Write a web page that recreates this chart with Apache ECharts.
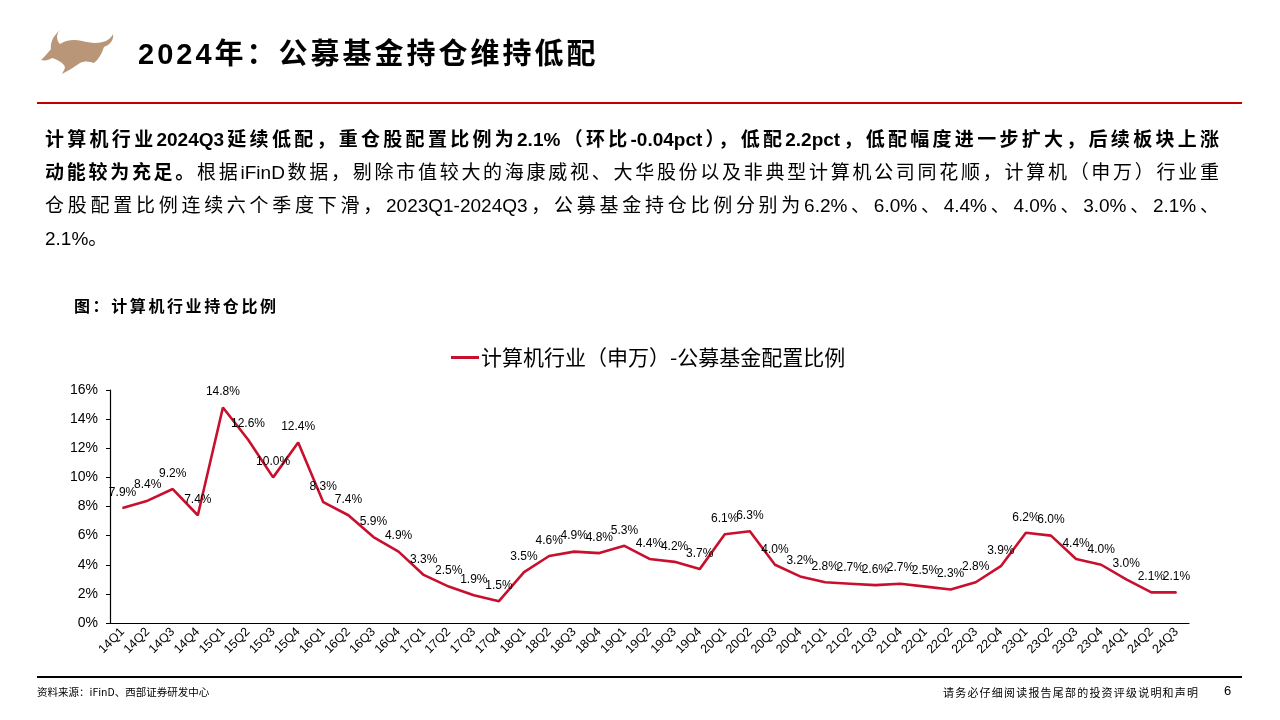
<!DOCTYPE html>
<html>
<head>
<meta charset="utf-8">
<script src="https://cdn.jsdelivr.net/npm/echarts@6/dist/echarts.min.js"></script>
<style>
  html, body { margin:0; padding:0; width:1280px; height:720px; background:#fff; overflow:hidden; }
  body { position:relative; font-family:"Liberation Sans", "Noto Sans CJK SC", sans-serif; color:#000; }
  #chart { position:absolute; left:0; top:0; width:1280px; height:720px; }
  .abs { position:absolute; }
  #title { left:138px; top:30px; font-size:29px; font-weight:bold; letter-spacing:3px; font-family:"Liberation Sans","Noto Sans CJK SC",sans-serif; white-space:nowrap; }
  #rule { left:37px; top:102px; width:1205px; height:2px; background:#C00000; }
  #para { left:45px; top:123px; width:1174px; font-size:19px; line-height:33px; font-family:"Liberation Sans","Noto Sans CJK SC",sans-serif; }
  #para .ln { display:block; white-space:nowrap; text-align:justify; text-align-last:justify; }
  #para .ln.last { text-align-last:left; }
  #para b { font-weight:bold; }
  #figt { left:74px; top:293px; font-size:16px; font-weight:bold; letter-spacing:2.6px; font-family:"Noto Sans CJK SC",sans-serif; }
  #frule { left:37px; top:676px; width:1205px; height:1.5px; background:#000; }
  #src { left:37px; top:684px; font-size:10.5px; font-family:"Noto Sans CJK SC",sans-serif; }
  #disc { left:943px; top:684px; font-size:11px; letter-spacing:1.2px; font-family:"Noto Sans CJK SC",sans-serif; }
  #page { left:1224px; top:683px; font-size:13px; }
</style>
</head>
<body>
<div id="chart"></div>
<svg class="abs" style="left:36px;top:28px" width="80" height="48" viewBox="0 0 80 48">
  <path d="M24 2 C20 6 20 12 24 16 C30 12 38 11 46 13 C54 15 62 16 70 13 C74 11 76 8 77 6 C78 12 74 17 68 19 C66 25 63 31 58 35 C53 33 48 33 44 35 C38 39 32 43 26 46 C28 42 30 40 28 37 C24 33 20 31 16 30 C13 32 9 33 5 32 C9 28 12 25 15 21 C14 15 17 8 24 2 Z" fill="#B89677"/>
</svg>
<div id="title" class="abs">2024年：公募基金持仓维持低配</div>
<div id="rule" class="abs"></div>
<div id="para" class="abs"><span class="ln"><b>计算机行业2024Q3延续低配，重仓股配置比例为2.1%（环比-0.04pct），低配2.2pct，低配幅度进一步扩大，后续板块上涨</b></span><span class="ln"><b>动能较为充足。</b>根据iFinD数据，剔除市值较大的海康威视、大华股份以及非典型计算机公司同花顺，计算机（申万）行业重</span><span class="ln">仓股配置比例连续六个季度下滑，2023Q1-2024Q3，公募基金持仓比例分别为6.2%、6.0%、4.4%、4.0%、3.0%、2.1%、</span><span class="ln last">2.1%。</span></div>
<div id="figt" class="abs">图：计算机行业持仓比例</div>
<div id="frule" class="abs"></div>
<div id="src" class="abs">资料来源：iFinD、西部证券研发中心</div>
<div id="disc" class="abs">请务必仔细阅读报告尾部的投资评级说明和声明</div>
<div id="page" class="abs">6</div>
<script>
const categories = ["14Q1","14Q2","14Q3","14Q4","15Q1","15Q2","15Q3","15Q4","16Q1","16Q2","16Q3","16Q4","17Q1","17Q2","17Q3","17Q4","18Q1","18Q2","18Q3","18Q4","19Q1","19Q2","19Q3","19Q4","20Q1","20Q2","20Q3","20Q4","21Q1","21Q2","21Q3","21Q4","22Q1","22Q2","22Q3","22Q4","23Q1","23Q2","23Q3","23Q4","24Q1","24Q2","24Q3"];
const seriesName = "计算机行业（申万）-公募基金配置比例";
const values = [7.9,8.4,9.2,7.4,14.8,12.6,10.0,12.4,8.3,7.4,5.9,4.9,3.3,2.5,1.9,1.5,3.5,4.6,4.9,4.8,5.3,4.4,4.2,3.7,6.1,6.3,4.0,3.2,2.8,2.7,2.6,2.7,2.5,2.3,2.8,3.9,6.2,6.0,4.4,4.0,3.0,2.1,2.1];
const yTicks = [0,2,4,6,8,10,12,14,16];

const chart = echarts.init(document.getElementById('chart'), null, {renderer:'canvas'});
chart.setOption({
  animation:false,
  textStyle:{fontFamily:'"Liberation Sans","Noto Sans CJK SC",sans-serif'},
  legend:{
    left:446, top:342,
    itemWidth:28, itemHeight:3, itemGap:6,
    icon:'rect',
    textStyle:{fontSize:21, color:'#000', fontFamily:'"Noto Sans CJK SC",sans-serif', padding:[0,0,0,-3]},
    data:[{name:seriesName, itemStyle:{color:'#C8102E', opacity:1}}]
  },
  grid:{left:110, right:91, top:390, bottom:97, containLabel:false},
  xAxis:{
    type:'category', data:categories, boundaryGap:true,
    axisLine:{lineStyle:{color:'#000', width:1.2}},
    axisTick:{inside:true, length:5, lineStyle:{color:'#000'}},
    axisLabel:{rotate:45, fontSize:12.5, color:'#000', interval:0, margin:7}
  },
  yAxis:{
    type:'value', min:yTicks[0], max:yTicks[yTicks.length-1], interval:2,
    axisLine:{show:true, lineStyle:{color:'#000', width:1.2}},
    axisTick:{show:true, length:4, lineStyle:{color:'#000'}},
    splitLine:{show:false},
    axisLabel:{fontSize:14, color:'#000', margin:12, formatter:v=>v+'%'}
  },
  series:[{
    name:seriesName, type:'line', data:values,
    symbol:'circle', symbolSize:1, showSymbol:true, smooth:false,
    lineStyle:{color:'#C8102E', width:2.6},
    itemStyle:{color:'#C8102E'},
    labelLayout:{hideOverlap:false},
    label:{show:true, position:'top', distance:9, fontSize:12, color:'#000', formatter:function(p){return Number(p.value).toFixed(1)+'%';}}
  }]
});
</script>
</body>
</html>
